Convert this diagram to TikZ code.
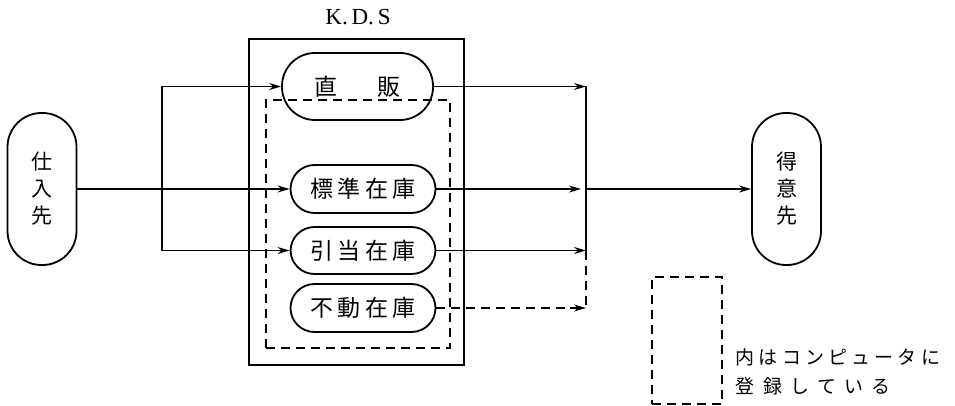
\documentclass[tikz,border=0pt]{standalone}
\usepackage{fontspec}
\newfontfamily\jp[LetterSpace=20]{Noto Sans CJK JP}
\newfontfamily\jpn{Noto Sans CJK JP}
\newfontfamily\jpl[LetterSpace=22]{Noto Sans CJK JP}
\newfontfamily\jplw[LetterSpace=44]{Noto Sans CJK JP}
\newfontfamily\lserif{Liberation Serif}
\usetikzlibrary{arrows.meta}
\begin{document}
\begin{tikzpicture}[x=1pt,y=-1pt,line width=1.3pt,
  pill/.style={draw,line width=1.8pt,rounded corners=24pt,minimum width=145pt,minimum height=48pt,inner sep=0pt,font=\jp\fontsize{23}{25}\selectfont},
  vpill/.style={draw,line width=1.8pt,rounded corners=34pt,minimum width=69pt,minimum height=152pt,inner sep=0pt,align=center,font=\jpn\fontsize{21}{27}\selectfont},
  tip/.style={-{Stealth[length=12pt,width=7pt]}},
  dsh/.style={dash pattern=on 9pt off 6pt,line width=1.3pt}]
\useasboundingbox (0,0) rectangle (955,406);
% KDS box
\node[draw,line width=2pt,minimum width=215pt,minimum height=326pt,inner sep=0pt] (kds) at (356.5,202) {};
\node[font=\lserif\fontsize{23}{25}\selectfont] (title) at (358,17) {K.\,D.\,S};
\node[draw,dsh,minimum width=184pt,minimum height=248pt,inner sep=0pt] (comp) at (358,224) {};
% pills
\node[pill,minimum width=151pt,minimum height=67pt,rounded corners=33pt] (choku) at (357.5,86.5) {直\hspace{1.7em}販};
\node[pill] (hyo) at (363,189) {標準在庫};
\node[pill,minimum height=47pt] (hiki) at (363,250.5) {引当在庫};
\node[pill] (fudo) at (363,308) {不動在庫};
\node[vpill] (shiire) at (42,189) {仕\\入\\先};
\node[vpill] (toku) at (786.5,189) {得\\意\\先};
% left connectors
\coordinate (lx) at (162,0);
\coordinate (rx) at (586,0);
\draw[tip] (shiire.east) -- (hyo.west);
\draw[tip] (hiki.west -| lx) -- (choku.west -| lx) -- (choku.west);
\draw[tip] (hiki.west -| lx) -- (hiki.west);
% right connectors
\draw[tip] (choku.east) -- (choku.east -| rx);
\draw (choku.east -| rx) -- (hiki.east -| rx);
\draw[tip] (hiki.east) -- (hiki.east -| rx);
\coordinate (fr) at (fudo.east -| rx);
\draw[dsh] (hiki.east -| rx) -- (fr);
\draw[dsh,shorten >=14pt] (fudo.east) -- (fr);
\draw[tip] ([xshift=-16pt]fr) -- (fr);
\coordinate (mid) at (hyo.east -| rx);
\draw[tip,shorten >=5pt] (hyo.east) -- (mid);
\draw[tip] (mid) -- (toku.west);
% legend
\node[draw,dsh,minimum width=70pt,minimum height=127pt,inner sep=0pt] (leg) at (687,340.5) {};
\node[anchor=west,align=left,inner sep=0pt,font=\fontsize{19}{29}\selectfont] (legtxt) at (735,372) {{\jpl 内はコンピュータに}\\{\jplw 登録している}};
\end{tikzpicture}
\end{document}
